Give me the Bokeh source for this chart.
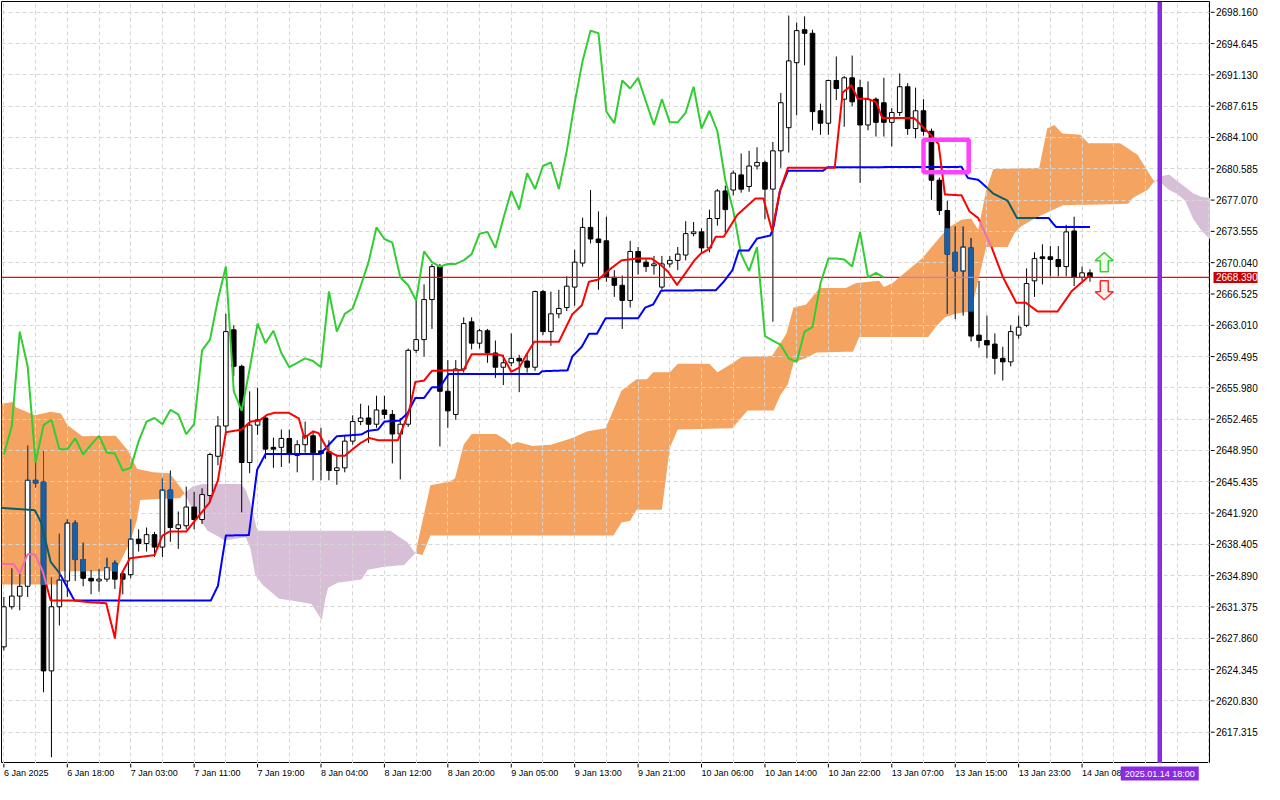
import numpy as np
from bokeh.plotting import figure
from bokeh.layouts import gridplot
from bokeh.models import Range1d, FixedTicker, Span
from bokeh.core.properties import value
from bokeh.embed import file_html
from bokeh.resources import INLINE

FONT = "Liberation Sans"

# ---------------- data ----------------
time_ticks = [0, 8, 16, 24, 32, 40, 48, 56, 64, 72, 80, 88, 96, 104, 112, 120, 128, 136]
time_labels = ["6 Jan 2025", "6 Jan 18:00", "7 Jan 03:00", "7 Jan 11:00", "7 Jan 19:00",
               "8 Jan 04:00", "8 Jan 12:00", "8 Jan 20:00", "9 Jan 05:00", "9 Jan 13:00",
               "9 Jan 21:00", "10 Jan 06:00", "10 Jan 14:00", "10 Jan 22:00", "13 Jan 07:00",
               "13 Jan 15:00", "13 Jan 23:00", "14 Jan 08:00"]
price_ticks = [2698.160, 2694.645, 2691.130, 2687.615, 2684.100, 2680.585, 2677.070, 2673.555,
               2670.040, 2666.525, 2663.010, 2659.495, 2655.980, 2652.465, 2648.950, 2645.435,
               2641.920, 2638.405, 2634.890, 2631.375, 2627.860, 2624.345, 2620.830, 2617.315]

bar_open = [2626.9, 2631.4, 2632.6, 2633.7, 2645.6, 2645.4, 2624.2, 2631.4, 2634.3, 2640.8,
            2636.7, 2634.6, 2634.3, 2634.5, 2636.3, 2635.1, 2635.0, 2639.0, 2638.5, 2639.5,
            2638.1, 2644.5, 2640.2, 2640.5, 2642.6, 2641.2, 2643.9, 2648.3, 2651.7, 2662.5,
            2658.4, 2647.6, 2651.8, 2652.6, 2649.3, 2649.3, 2650.3, 2648.4, 2649.6, 2650.6,
            2648.9, 2648.8, 2646.7, 2647.0, 2650.0, 2652.2, 2652.6, 2651.9, 2653.5, 2653.0,
            2650.8, 2651.9, 2660.2, 2661.4, 2665.9, 2669.6, 2655.6, 2653.0, 2658.1, 2663.4,
            2661.0, 2662.4, 2659.9, 2658.3, 2658.8, 2659.3, 2659.0, 2658.3, 2666.8, 2662.3,
            2664.3, 2665.0, 2667.3, 2670.0, 2674.0, 2672.7, 2672.5, 2668.4, 2667.5, 2665.8,
            2671.3, 2670.1, 2669.7, 2667.3, 2669.9, 2670.3, 2670.9, 2673.3, 2673.5, 2671.7,
            2675.0, 2678.1, 2678.2, 2679.9, 2678.6, 2680.9, 2681.3, 2678.3, 2682.6, 2685.2,
            2692.5, 2696.2, 2695.8, 2687.1, 2685.7, 2690.5, 2688.4, 2690.8, 2689.7, 2685.5,
            2688.4, 2688.0, 2685.8, 2686.9, 2689.8, 2685.1, 2687.1, 2684.8, 2679.3, 2675.9,
            2671.2, 2669.1, 2671.7, 2661.9, 2661.3, 2660.9, 2659.3, 2658.9, 2661.9, 2663.0,
            2668.0, 2670.7, 2670.7, 2670.4, 2669.6, 2673.6, 2668.4, 2668.9]
bar_high = [2632.5, 2635.7, 2635.1, 2649.5, 2647.6, 2648.9, 2634.7, 2639.6, 2641.2, 2641.1,
            2638.6, 2635.5, 2635.6, 2636.9, 2636.6, 2635.4, 2641.2, 2640.1, 2640.3, 2639.8,
            2645.8, 2646.7, 2642.1, 2644.9, 2644.3, 2644.7, 2648.7, 2652.8, 2664.3, 2663.0,
            2658.6, 2655.6, 2656.0, 2652.8, 2650.4, 2651.3, 2651.3, 2650.1, 2652.2, 2651.1,
            2651.5, 2650.1, 2648.5, 2650.7, 2652.9, 2654.2, 2654.0, 2655.1, 2655.1, 2653.5,
            2652.6, 2660.4, 2665.9, 2667.6, 2669.9, 2669.9, 2659.1, 2659.1, 2663.9, 2663.9,
            2662.6, 2662.6, 2661.3, 2659.7, 2662.1, 2659.7, 2659.9, 2666.9, 2667.0, 2666.8,
            2667.0, 2668.5, 2671.5, 2675.1, 2678.2, 2675.8, 2675.2, 2669.2, 2668.6, 2672.5,
            2671.8, 2670.5, 2670.8, 2670.8, 2670.8, 2671.8, 2674.7, 2674.6, 2673.9, 2676.0,
            2678.3, 2678.7, 2680.4, 2682.3, 2682.6, 2683.0, 2681.5, 2683.6, 2689.1, 2697.8,
            2697.0, 2697.7, 2696.2, 2687.9, 2690.6, 2693.2, 2691.0, 2693.3, 2690.6, 2690.4,
            2688.6, 2690.8, 2687.4, 2691.3, 2690.2, 2689.7, 2688.4, 2685.1, 2679.6, 2677.0,
            2674.1, 2674.1, 2672.8, 2668.0, 2664.1, 2662.1, 2660.6, 2663.0, 2664.1, 2669.4,
            2671.2, 2672.1, 2671.9, 2671.9, 2674.3, 2675.2, 2669.6, 2669.3]
bar_low = [2626.5, 2631.1, 2631.0, 2632.5, 2644.8, 2621.8, 2614.5, 2629.3, 2632.5, 2634.3,
           2633.7, 2632.8, 2633.1, 2634.2, 2633.4, 2632.8, 2634.6, 2637.6, 2637.6, 2637.0,
           2637.0, 2638.7, 2637.9, 2640.1, 2640.1, 2640.7, 2643.1, 2647.3, 2650.7, 2657.3,
           2642.0, 2646.4, 2650.7, 2648.0, 2647.0, 2647.1, 2647.5, 2646.5, 2648.7, 2645.6,
           2645.6, 2645.6, 2645.1, 2646.5, 2649.6, 2651.8, 2649.8, 2651.5, 2652.5, 2647.5,
           2645.7, 2651.6, 2659.9, 2659.5, 2662.6, 2649.4, 2651.5, 2652.4, 2657.7, 2660.3,
           2660.4, 2658.8, 2657.1, 2656.3, 2658.4, 2655.5, 2657.7, 2657.9, 2661.9, 2660.7,
           2663.8, 2664.6, 2665.2, 2669.6, 2672.2, 2667.0, 2667.9, 2666.2, 2662.6, 2665.0,
           2668.7, 2669.0, 2668.7, 2667.0, 2669.5, 2669.2, 2670.3, 2673.0, 2671.2, 2671.2,
           2674.2, 2673.4, 2677.6, 2677.9, 2678.0, 2680.5, 2674.9, 2663.4, 2680.7, 2682.4,
           2686.6, 2692.2, 2684.9, 2684.4, 2684.4, 2688.3, 2685.3, 2687.6, 2679.0, 2684.9,
           2684.2, 2684.2, 2683.1, 2686.5, 2684.4, 2684.0, 2684.3, 2677.1, 2675.4, 2664.3,
           2663.7, 2664.1, 2661.2, 2660.5, 2659.3, 2657.5, 2656.8, 2658.4, 2661.5, 2662.8,
           2666.2, 2667.6, 2668.5, 2668.5, 2668.5, 2667.4, 2668.0, 2667.9]
bar_close = [2631.4, 2632.6, 2633.7, 2645.6, 2645.3, 2624.2, 2631.4, 2634.4, 2640.8, 2636.7,
             2634.6, 2634.3, 2634.5, 2635.8, 2634.5, 2634.5, 2639.0, 2638.5, 2639.5, 2638.1,
             2644.5, 2640.3, 2640.6, 2642.6, 2641.2, 2644.0, 2648.5, 2651.7, 2662.3, 2658.4,
             2647.6, 2651.8, 2652.4, 2649.1, 2649.1, 2650.3, 2648.5, 2649.6, 2650.6, 2648.7,
             2648.6, 2646.7, 2647.0, 2650.0, 2652.2, 2652.6, 2651.9, 2653.5, 2653.0, 2650.8,
             2651.9, 2660.2, 2661.4, 2665.9, 2669.6, 2655.6, 2653.4, 2658.1, 2663.2, 2661.0,
             2662.4, 2659.9, 2658.3, 2658.8, 2659.3, 2659.0, 2658.3, 2666.8, 2662.3, 2664.3,
             2664.9, 2667.4, 2670.1, 2674.0, 2672.7, 2672.3, 2668.4, 2667.5, 2665.8, 2671.3,
             2670.1, 2669.6, 2669.9, 2669.9, 2670.3, 2671.0, 2673.3, 2673.5, 2671.7, 2675.0,
             2678.1, 2676.0, 2680.1, 2678.3, 2680.9, 2681.3, 2678.3, 2682.6, 2688.0, 2692.7,
             2696.1, 2695.8, 2687.0, 2685.7, 2690.5, 2689.6, 2690.8, 2688.1, 2685.5, 2688.4,
             2685.8, 2685.8, 2686.9, 2689.8, 2685.1, 2687.1, 2684.8, 2679.3, 2675.9, 2671.0,
             2669.1, 2671.8, 2661.8, 2661.3, 2660.8, 2659.3, 2658.9, 2662.3, 2662.8, 2667.7,
             2670.5, 2670.5, 2670.4, 2669.6, 2673.5, 2668.4, 2668.9, 2668.39]

chikou_shift = 26

tenkan = [(-0.3, 2636.2), (1.2, 2636.2), (2.0, 2635.2), (3.0, 2637.3), (3.9, 2637.3), (4.9, 2635.4),
          (5.9, 2632.1), (8.9, 2632.1), (10.9, 2631.9), (12.9, 2631.8), (14.0, 2627.9), (14.9, 2635.2),
          (15.9, 2636.85), (19.0, 2637.2), (20.0, 2639.4), (20.9, 2639.85), (23.0, 2639.85), (25.9, 2643.05),
          (27.0, 2645.6), (28.0, 2651.0), (30.0, 2651.3), (31.1, 2652.2), (32.2, 2652.3), (33.2, 2652.95),
          (34.2, 2653.2), (35.9, 2653.2), (37.2, 2652.55), (37.9, 2650.35), (39.0, 2651.1), (39.7, 2650.9),
          (40.9, 2648.9), (42.0, 2648.35), (43.0, 2648.35), (44.0, 2649.1), (45.0, 2649.8), (46.1, 2650.35),
          (47.2, 2650.1), (49.7, 2650.1), (51.1, 2653.3), (51.9, 2656.65), (53.0, 2656.8), (54.0, 2657.9),
          (58.0, 2658.0), (59.0, 2659.75), (62.1, 2659.75), (62.9, 2659.6), (64.0, 2657.8), (65.0, 2658.25),
          (65.9, 2659.7), (66.9, 2661.15), (70.0, 2661.15), (71.7, 2664.25), (72.9, 2665.25), (73.8, 2667.9),
          (75.0, 2668.15), (76.3, 2669.2), (77.9, 2670.3), (79.8, 2670.5), (81.7, 2670.5), (82.9, 2669.75),
          (83.8, 2669.0), (84.9, 2667.55), (85.8, 2668.65), (87.1, 2670.3), (87.9, 2671.05), (89.0, 2671.6),
          (89.8, 2672.95), (90.8, 2672.95), (92.5, 2675.4), (94.8, 2677.25), (95.8, 2677.25), (96.9, 2673.6),
          (97.9, 2678.15), (98.9, 2680.7), (104.8, 2680.7), (105.8, 2689.15), (106.9, 2689.95), (107.7, 2688.45),
          (108.9, 2688.45), (110.0, 2688.1), (110.8, 2686.3), (114.8, 2686.3), (116.9, 2684.4), (117.9, 2683.35),
          (118.7, 2677.7), (120.8, 2677.6), (121.8, 2675.8), (122.9, 2675.05), (124.6, 2671.75), (126.0, 2668.45),
          (127.7, 2665.55), (128.9, 2665.55), (130.4, 2664.55), (132.9, 2664.55), (134.7, 2666.85), (137.0, 2668.65)]

kijun = [(-0.3, 2642.5), (3.9, 2642.25), (4.7, 2640.85), (5.9, 2636.45), (7.0, 2635.2), (8.9, 2632.1),
         (26.1, 2632.1), (27.0, 2633.75), (28.0, 2639.4), (30.9, 2639.45), (31.95, 2646.8), (33.0, 2648.55),
         (39.9, 2648.55), (42.0, 2650.55), (45.1, 2650.75), (45.9, 2651.15), (47.2, 2651.3), (48.0, 2652.2),
         (49.9, 2652.3), (50.9, 2653.1), (51.9, 2654.85), (53.0, 2654.85), (54.0, 2656.05), (55.0, 2656.05),
         (56.1, 2657.55), (67.5, 2657.55), (67.9, 2657.85), (71.1, 2657.95), (71.7, 2659.5), (72.9, 2660.6),
         (73.8, 2662.05), (74.8, 2662.05), (75.9, 2663.8), (80.0, 2663.8), (80.9, 2665.0), (81.9, 2665.35),
         (82.9, 2666.9), (89.8, 2666.95), (90.8, 2667.9), (91.9, 2669.2), (92.7, 2671.4), (93.95, 2671.4),
         (95.0, 2672.75), (96.7, 2673.1), (97.1, 2674.15), (97.9, 2678.15), (98.9, 2680.35), (103.3, 2680.35),
         (103.9, 2680.75), (120.8, 2680.8), (121.6, 2679.55), (122.9, 2679.35), (123.9, 2678.55), (124.8, 2677.8),
         (126.6, 2677.0), (127.8, 2675.05), (131.8, 2675.05), (132.7, 2674.05), (137.0, 2674.05)]

span_a = [(-0.3, 2654.2), (1.2, 2654.4), (1.5, 2653.8), (3.9, 2652.9), (5.9, 2653.3), (7.2, 2653.1),
          (8.0, 2651.8), (9.9, 2650.55), (14.1, 2650.6), (15.7, 2648.9), (16.8, 2646.9), (18.8, 2646.5),
          (20.9, 2646.4), (22.2, 2644.9), (22.8, 2644.15), (23.8, 2642.3), (24.7, 2641.2), (25.7, 2639.95),
          (27.2, 2639.2), (27.8, 2638.85), (30.5, 2639.2), (31.1, 2637.95), (31.7, 2635.0), (32.6, 2633.9),
          (34.7, 2632.3), (36.3, 2632.1), (38.8, 2631.7), (40.1, 2629.9), (40.5, 2632.1), (40.9, 2633.55),
          (42.1, 2634.1), (45.1, 2634.45), (45.9, 2635.55), (48.0, 2635.9), (50.5, 2636.1), (51.9, 2637.4),
          (53.8, 2645.05), (56.1, 2645.45), (56.9, 2645.8), (58.0, 2649.6), (59.0, 2650.8), (62.1, 2650.8),
          (63.2, 2650.2), (64.0, 2649.6), (64.8, 2649.9), (66.7, 2649.45), (69.0, 2649.6), (71.7, 2650.35),
          (73.6, 2651.1), (75.9, 2651.45), (77.9, 2655.65), (79.8, 2656.95), (81.1, 2656.95), (81.9, 2657.75),
          (84.0, 2657.75), (85.0, 2658.7), (89.0, 2658.7), (90.0, 2657.75), (92.1, 2658.85), (93.1, 2659.5),
          (96.9, 2659.6), (97.9, 2660.95), (98.7, 2662.05), (99.6, 2665.0), (101.2, 2665.35), (102.9, 2667.2),
          (106.2, 2667.2), (107.5, 2667.75), (110.4, 2668.0), (111.0, 2667.3), (112.1, 2667.75), (113.3, 2668.65),
          (115.8, 2670.5), (117.5, 2672.3), (119.1, 2673.95), (120.8, 2674.85), (122.0, 2675.0), (122.9, 2673.75),
          (123.9, 2678.15), (124.8, 2680.55), (130.6, 2680.7), (131.6, 2685.1), (132.5, 2685.5), (133.5, 2684.55),
          (135.8, 2684.4), (136.8, 2683.45), (140.8, 2683.45), (142.0, 2682.75), (143.0, 2682.15), (144.0, 2680.7),
          (145.0, 2679.3), (146.0, 2678.95), (147.0, 2678.2), (148.0, 2677.75), (149.0, 2677.0), (150.0, 2675.0),
          (151.0, 2673.7), (152.2, 2672.6)]

span_b = [(-0.3, 2633.9), (6.9, 2633.9), (7.2, 2635.4), (14.1, 2635.4), (15.9, 2638.65), (16.8, 2641.2),
          (17.2, 2643.4), (22.2, 2643.6), (22.8, 2644.15), (23.8, 2644.9), (25.1, 2645.2), (29.9, 2645.2),
          (30.5, 2644.5), (31.1, 2643.05), (31.9, 2640.2), (32.1, 2639.95), (48.8, 2639.95), (49.6, 2639.4),
          (50.9, 2638.65), (51.9, 2637.4), (52.8, 2637.2), (53.8, 2639.4), (76.9, 2639.4), (77.9, 2640.85),
          (79.0, 2641.05), (79.8, 2642.3), (83.0, 2642.3), (84.0, 2649.25), (85.0, 2651.3), (91.9, 2651.45),
          (93.8, 2653.45), (97.1, 2653.45), (97.9, 2655.1), (98.9, 2656.4), (99.6, 2658.8), (101.2, 2659.35),
          (102.5, 2659.95), (107.1, 2660.05), (107.9, 2661.7), (116.6, 2661.7), (117.5, 2662.8), (118.7, 2663.9),
          (120.0, 2664.3), (122.0, 2664.6), (123.9, 2671.8), (126.6, 2671.8), (127.5, 2673.4), (128.3, 2674.1),
          (130.0, 2675.0), (133.6, 2676.5), (141.8, 2676.65), (142.4, 2677.3), (143.6, 2677.9), (144.3, 2678.25),
          (145.0, 2679.05), (146.0, 2679.75), (147.0, 2679.95), (148.0, 2679.2), (149.0, 2678.55), (150.0, 2677.85),
          (151.0, 2677.45), (152.2, 2677.3)]

current_price = 2668.39
marker_bar = 145.8
marker_label = "2025.01.14 18:00"
box_left, box_right, box_top, box_bottom = 116.0, 121.7, 2683.85, 2680.2
signal_bar = 138.8
signal_up_price = 2670.1
signal_down_price = 2666.95

# ---------------- styles ----------------
ORANGE = "#f4a460"
THISTLE = "#d8bfd8"
IN_CLOUD_CANDLE = "#1760a8"
RED, BLUE, GREEN = "#ff0000", "#0000ff", "#32cd32"
RED_IN, BLUE_IN, PRICE_IN = "#f26bb5", "#0d5e63", "#c878d0"
PURPLE = "#8a2be2"
GRID = "#d6d6d6"

X0, X1 = -0.3, 152.2
Y0, Y1 = 2613.8, 2699.37
MAIN_W, MAIN_H = 1210, 763
RIGHT_W, BOTTOM_H = 54, 21

p = figure(width=MAIN_W, height=MAIN_H, output_backend="svg", toolbar_location=None,
           x_range=Range1d(X0, X1), y_range=Range1d(Y0, Y1),
           x_axis_location=None, y_axis_location=None,
           min_border_left=1, min_border_top=1, min_border_right=0, min_border_bottom=0)
p.background_fill_color = "white"
p.border_fill_color = "white"
p.outline_line_color = "black"
p.outline_line_width = 1
p.xgrid.ticker = FixedTicker(ticks=list(range(0, 153, 4)))
p.ygrid.ticker = FixedTicker(ticks=price_ticks)
for g in (p.xgrid[0], p.ygrid[0]):
    g.grid_line_color = GRID
    g.grid_line_dash = "4 3"
    g.grid_line_width = 1

ax_ = np.array([q[0] for q in span_a]); ay_ = np.array([q[1] for q in span_a])
bx_ = np.array([q[0] for q in span_b]); by_ = np.array([q[1] for q in span_b])


def cloud_at(x):
    return np.interp(x, ax_, ay_), np.interp(x, bx_, by_)


# ---------------- cloud ----------------
gx = np.union1d(ax_, bx_)
ga, gb = cloud_at(gx)
px, pa, pb = [gx[0]], [ga[0]], [gb[0]]
for k in range(1, len(gx)):
    d0 = ga[k - 1] - gb[k - 1]
    d1 = ga[k] - gb[k]
    if d0 * d1 < 0:
        t = d0 / (d0 - d1)
        xc = gx[k - 1] + t * (gx[k] - gx[k - 1])
        yc = ga[k - 1] + t * (ga[k] - ga[k - 1])
        px.append(xc); pa.append(yc); pb.append(yc)
    px.append(gx[k]); pa.append(ga[k]); pb.append(gb[k])
px, pa, pb = np.array(px), np.array(pa), np.array(pb)
sign = ((pa[:-1] + pa[1:]) - (pb[:-1] + pb[1:])) >= 0
poly_x, poly_y, poly_c = [], [], []
s = 0
for k in range(1, len(sign) + 1):
    if k == len(sign) or sign[k] != sign[s]:
        xs_ = px[s:k + 1]
        poly_x.append(np.concatenate([xs_, xs_[::-1]]).tolist())
        poly_y.append(np.concatenate([pa[s:k + 1], pb[s:k + 1][::-1]]).tolist())
        poly_c.append(ORANGE if sign[s] else THISTLE)
        s = k
p.patches(xs=poly_x, ys=poly_y, fill_color=poly_c, line_color=None, level="image")

# ---------------- candles ----------------
o = np.array(bar_open); h = np.array(bar_high); l = np.array(bar_low); c = np.array(bar_close)
idx = np.arange(len(o), dtype=float)
ca, cb = cloud_at(idx)
orange = ca > cb
top = np.maximum(o, c); bot = np.minimum(o, c)
bull = c >= o
BW = 0.58

p.segment(x0=idx, y0=l, x1=idx, y1=h, line_color="black", line_width=1)
wx, w0, w1 = [], [], []
for i in range(len(o)):
    if orange[i]:
        a0, a1 = max(l[i], cb[i]), min(h[i], ca[i])
        if a1 > a0:
            wx.append(idx[i]); w0.append(a0); w1.append(a1)
p.segment(x0=wx, y0=w0, x1=wx, y1=w1, line_color=IN_CLOUD_CANDLE, line_width=1)

p.vbar(x=idx[bull], width=BW, top=top[bull], bottom=bot[bull],
       fill_color="white", line_color="black", line_width=1)
p.vbar(x=idx[~bull], width=BW, top=top[~bull], bottom=bot[~bull],
       fill_color="black", line_color="black", line_width=1)

bear_x, bear_t, bear_b = [], [], []
ex0, ey0, ex1, ey1 = [], [], [], []
for i in range(len(o)):
    if not orange[i]:
        continue
    q0, q1 = max(bot[i], cb[i]), min(top[i], ca[i])
    if q1 < q0:
        continue
    if bull[i]:
        for dx in (-BW / 2, BW / 2):
            ex0.append(idx[i] + dx); ey0.append(q0); ex1.append(idx[i] + dx); ey1.append(q1)
        for yy in (top[i], bot[i]):
            if cb[i] <= yy <= ca[i]:
                ex0.append(idx[i] - BW / 2); ey0.append(yy); ex1.append(idx[i] + BW / 2); ey1.append(yy)
    else:
        bear_x.append(idx[i]); bear_t.append(q1); bear_b.append(q0)
p.vbar(x=bear_x, width=BW, top=bear_t, bottom=bear_b,
       fill_color=IN_CLOUD_CANDLE, line_color=IN_CLOUD_CANDLE, line_width=1)
p.segment(x0=ex0, y0=ey0, x1=ex1, y1=ey1, line_color=IN_CLOUD_CANDLE, line_width=1)


# ---------------- lines ----------------
def split_runs(kx, ky, step=0.05):
    kx = np.asarray(kx, float); ky = np.asarray(ky, float)
    xs = np.union1d(np.arange(kx[0], kx[-1], step), kx)
    ys = np.interp(xs, kx, ky)
    xm = 0.5 * (xs[:-1] + xs[1:]); ym = 0.5 * (ys[:-1] + ys[1:])
    am, bm = cloud_at(xm)
    inside = (am > bm) & (ym >= bm) & (ym <= am)
    out_runs, in_runs = [], []
    st = 0
    n = len(inside)
    for k in range(1, n + 1):
        if k == n or inside[k] != inside[st]:
            run = (xs[st:k + 1].tolist(), ys[st:k + 1].tolist())
            (in_runs if inside[st] else out_runs).append(run)
            st = k
    return out_runs, in_runs


def draw_split(kx, ky, color, alt, width):
    out_runs, in_runs = split_runs(kx, ky)
    for runs, col in ((out_runs, color), (in_runs, alt)):
        if runs:
            p.multi_line(xs=[r[0] for r in runs], ys=[r[1] for r in runs],
                         line_color=col, line_width=width, line_join="round")


draw_split([X0, X1], [current_price, current_price], RED, PRICE_IN, 1.2)

n_ch = len(c) - chikou_shift
p.line(idx[:n_ch], c[chikou_shift:], line_color=GREEN, line_width=2)
draw_split([q[0] for q in kijun], [q[1] for q in kijun], BLUE, BLUE_IN, 2)
draw_split([q[0] for q in tenkan], [q[1] for q in tenkan], RED, RED_IN, 2)

# ---------------- marks ----------------
p.quad(left=[box_left], right=[box_right], top=[box_top], bottom=[box_bottom],
       fill_color=None, line_color="#ff40ff", line_width=4.5)

PX_BAR = (MAIN_W - 1) / (X1 - X0)
PX_PRICE = (MAIN_H - 1) / (Y1 - Y0)
shape = [(0, 9.5), (9, 1.5), (4, 1.5), (4, -9.5), (-4, -9.5), (-4, 1.5), (-9, 1.5)]
up_x = [signal_bar + dx / PX_BAR for dx, dy in shape]
up_y = [signal_up_price + dy / PX_PRICE for dx, dy in shape]
dn_x = [signal_bar + dx / PX_BAR for dx, dy in shape]
dn_y = [signal_down_price - dy / PX_PRICE for dx, dy in shape]
p.patch(up_x, up_y, fill_color="#eefbe6", line_color="#3fcf3f", line_width=1.5)
p.patch(dn_x, dn_y, fill_color="#fff0ee", line_color="#ff2a2a", line_width=1.5)

p.add_layout(Span(location=marker_bar, dimension="height", line_color=PURPLE, line_width=4.5))

# ---------------- right price scale ----------------
r = figure(width=RIGHT_W, height=MAIN_H, output_backend="svg", toolbar_location=None,
           x_range=Range1d(0, RIGHT_W), y_range=p.y_range,
           x_axis_location=None, y_axis_location=None,
           min_border_left=0, min_border_top=1, min_border_right=0, min_border_bottom=0)
r.outline_line_color = None
r.xgrid.visible = False
r.ygrid.visible = False
r.background_fill_color = "white"
r.border_fill_color = "white"
r.segment(x0=[0] * len(price_ticks), y0=price_ticks, x1=[4] * len(price_ticks), y1=price_ticks,
          line_color="black", line_width=1)
r.text(x=[5.5] * len(price_ticks), y=price_ticks, text=[f"{v:.3f}" for v in price_ticks],
       text_font=value(FONT), text_font_size="10px", text_color="black",
       text_align="left", text_baseline="middle")
r.rect(x=[25], y=[current_price], width=[44], height=[11], height_units="screen",
       fill_color="#c80000", line_color=None)
r.text(x=[5.5], y=[current_price], text=[f"{current_price:.3f}"], text_font=value(FONT),
       text_font_size="10px", text_color="white", text_align="left", text_baseline="middle")

# ---------------- bottom time scale ----------------
b = figure(width=MAIN_W, height=BOTTOM_H, output_backend="svg", toolbar_location=None,
           x_range=p.x_range, y_range=Range1d(0, BOTTOM_H),
           x_axis_location=None, y_axis_location=None,
           min_border_left=1, min_border_top=0, min_border_right=0, min_border_bottom=0)
b.outline_line_color = None
b.xgrid.visible = False
b.ygrid.visible = False
b.background_fill_color = "white"
b.border_fill_color = "white"
b.segment(x0=time_ticks, y0=[BOTTOM_H] * len(time_ticks), x1=time_ticks, y1=[BOTTOM_H - 4] * len(time_ticks),
          line_color="black", line_width=1)
b.text(x=time_ticks, y=[BOTTOM_H - 4] * len(time_ticks), text=time_labels, text_font=value(FONT),
       text_font_size="9px", text_color="black", text_align="left", text_baseline="top")
b.rect(x=[marker_bar], y=[BOTTOM_H - 10], width=[78], height=[14], width_units="screen",
       fill_color=PURPLE, line_color=None)
b.text(x=[marker_bar], y=[BOTTOM_H - 10], text=[marker_label], text_font=value(FONT),
       text_font_size="9px", text_color="white", text_align="center", text_baseline="middle")

layout = gridplot([[p, r], [b, None]], toolbar_location=None)
open("out.html", "w").write(file_html(layout, INLINE))
